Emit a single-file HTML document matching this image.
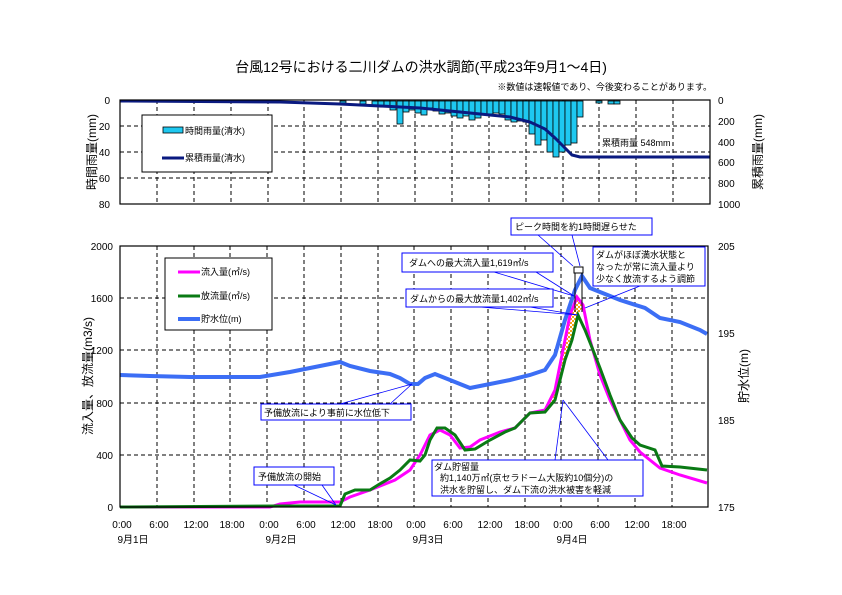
<!DOCTYPE html>
<html><head><meta charset="utf-8"><style>
html,body{margin:0;padding:0;background:#fff}
svg{display:block}
text{font-family:"Liberation Sans","Noto Sans CJK JP",sans-serif;fill:#000}
</style></head><body>
<svg width="842" height="595" viewBox="0 0 842 595" xmlns="http://www.w3.org/2000/svg">
<defs>
<pattern id="chk" width="4" height="4" patternUnits="userSpaceOnUse">
<rect width="4" height="4" fill="#ffffff"/><rect width="2" height="2" fill="#f7a21b"/><rect x="2" y="2" width="2" height="2" fill="#f7a21b"/>
</pattern>
</defs>
<text x="421" y="72" font-size="14" text-anchor="middle">台風12号における二川ダムの洪水調節(平成23年9月1～4日)</text>
<text x="712" y="90" font-size="9" text-anchor="end">※数値は速報値であり、今後変わることがあります。</text>

<!-- TOP CHART -->
<g stroke="#000" stroke-width="1" stroke-dasharray="4,3" fill="none">
<line x1="120" y1="126" x2="710" y2="126"/><line x1="120" y1="152" x2="710" y2="152"/><line x1="120" y1="178" x2="710" y2="178"/>
<line x1="157" y1="100" x2="157" y2="204"/><line x1="194" y1="100" x2="194" y2="204"/><line x1="231" y1="100" x2="231" y2="204"/><line x1="268" y1="100" x2="268" y2="204"/><line x1="304" y1="100" x2="304" y2="204"/><line x1="341" y1="100" x2="341" y2="204"/><line x1="378" y1="100" x2="378" y2="204"/><line x1="415" y1="100" x2="415" y2="204"/><line x1="452" y1="100" x2="452" y2="204"/><line x1="489" y1="100" x2="489" y2="204"/><line x1="526" y1="100" x2="526" y2="204"/><line x1="563" y1="100" x2="563" y2="204"/><line x1="599" y1="100" x2="599" y2="204"/><line x1="636" y1="100" x2="636" y2="204"/><line x1="673" y1="100" x2="673" y2="204"/>
</g>
<g fill="#1ec8f0" stroke="#000" stroke-width="0.8">
<rect x="340" y="101" width="6" height="2"/><rect x="360" y="101" width="6" height="3"/><rect x="372" y="101" width="6" height="4"/><rect x="378" y="101" width="6" height="5"/><rect x="384" y="101" width="6" height="6"/><rect x="390" y="101" width="6" height="9"/><rect x="397" y="101" width="6" height="23"/><rect x="403" y="101" width="6" height="11"/><rect x="409" y="101" width="6" height="9"/><rect x="415" y="101" width="6" height="12"/><rect x="421" y="101" width="6" height="14"/><rect x="427" y="101" width="6" height="7"/><rect x="433" y="101" width="6" height="10"/><rect x="439" y="101" width="6" height="13"/><rect x="445" y="101" width="6" height="12"/><rect x="451" y="101" width="6" height="15"/><rect x="457" y="101" width="6" height="17"/><rect x="463" y="101" width="6" height="15"/><rect x="469" y="101" width="6" height="19"/><rect x="475" y="101" width="6" height="17"/><rect x="481" y="101" width="6" height="14"/><rect x="487" y="101" width="6" height="13"/><rect x="493" y="101" width="6" height="12"/><rect x="499" y="101" width="6" height="13"/><rect x="505" y="101" width="6" height="19"/><rect x="511" y="101" width="6" height="21"/><rect x="517" y="101" width="6" height="20"/><rect x="523" y="101" width="6" height="21"/><rect x="529" y="101" width="6" height="33"/><rect x="535" y="101" width="6" height="44"/><rect x="541" y="101" width="6" height="39"/><rect x="547" y="101" width="6" height="51"/><rect x="553" y="101" width="6" height="56"/><rect x="559" y="101" width="6" height="51"/><rect x="565" y="101" width="6" height="44"/><rect x="571" y="101" width="6" height="42"/><rect x="577" y="101" width="6" height="16"/><rect x="596" y="101" width="6" height="2"/><rect x="608" y="101" width="6" height="3"/><rect x="614" y="101" width="6" height="3"/>
</g>
<polyline fill="none" stroke="#0a1a80" stroke-width="3" points="120,101 200,101.5 280,102 340,104 380,106 420,108 460,112 490,115 510,117 530,122 545,129 555,138 565,148 572,155 580,157 620,157 710,157"/>
<rect x="120" y="100" width="590" height="104" fill="none" stroke="#000" stroke-width="1.2"/>
<g font-size="10" text-anchor="end"><text x="110" y="104">0</text><text x="110" y="130">20</text><text x="110" y="156">40</text><text x="110" y="182">60</text><text x="110" y="208">80</text></g>
<g font-size="10"><text x="718" y="104">0</text><text x="718" y="125">200</text><text x="718" y="146">400</text><text x="718" y="166">600</text><text x="718" y="187">800</text><text x="718" y="208">1000</text></g>
<text transform="translate(96,152) rotate(-90)" font-size="12" text-anchor="middle">時間雨量(mm)</text>
<text transform="translate(762,152) rotate(-90)" font-size="12" text-anchor="middle">累積雨量(mm)</text>
<rect x="142" y="115" width="130" height="57" fill="#fff" stroke="#000"/>
<rect x="163" y="127" width="20" height="6" fill="#1ec8f0" stroke="#000" stroke-width="0.8"/>
<text x="185" y="134" font-size="9">時間雨量(清水)</text>
<line x1="162" y1="158" x2="184" y2="158" stroke="#0a1a80" stroke-width="3"/>
<text x="185" y="161" font-size="9">累積雨量(清水)</text>
<text x="602" y="146" font-size="9">累積雨量 548mm</text>

<!-- BOTTOM CHART -->
<g stroke="#000" stroke-width="1" stroke-dasharray="4,3" fill="none">
<line x1="120" y1="298" x2="708" y2="298"/><line x1="120" y1="350" x2="708" y2="350"/><line x1="120" y1="403" x2="708" y2="403"/><line x1="120" y1="455" x2="708" y2="455"/>
<line x1="157" y1="246" x2="157" y2="507"/><line x1="194" y1="246" x2="194" y2="507"/><line x1="230" y1="246" x2="230" y2="507"/><line x1="267" y1="246" x2="267" y2="507"/><line x1="304" y1="246" x2="304" y2="507"/><line x1="341" y1="246" x2="341" y2="507"/><line x1="378" y1="246" x2="378" y2="507"/><line x1="414" y1="246" x2="414" y2="507"/><line x1="451" y1="246" x2="451" y2="507"/><line x1="488" y1="246" x2="488" y2="507"/><line x1="525" y1="246" x2="525" y2="507"/><line x1="561" y1="246" x2="561" y2="507"/><line x1="598" y1="246" x2="598" y2="507"/><line x1="635" y1="246" x2="635" y2="507"/><line x1="672" y1="246" x2="672" y2="507"/>
</g>
<!-- storage area -->
<polygon fill="url(#chk)" points="530,413 545,410 555,390 565,340 570,315 577,297 583,305 580,312 578,315 572,340 565,360 555,400 545,412"/>
<!-- inflow -->
<polyline fill="none" stroke="#ff00ff" stroke-width="3" points="120,507 270,507 280,504 300,502 340,502 350,497 370,490 395,480 410,470 420,455 430,435 440,430 450,435 460,448 470,447 480,440 500,432 515,428 530,413 545,410 555,390 565,340 570,315 577,297 583,305 590,340 600,375 610,400 620,420 630,440 640,452 660,468 680,475 707,483"/>
<!-- outflow -->
<polyline fill="none" stroke="#0a7a14" stroke-width="3" points="120,507 280,506 340,506 345,494 355,490 370,490 378,485 390,478 400,470 410,460 420,461 425,455 430,440 437,428 445,428 455,435 465,450 475,449 490,440 505,432 515,428 530,413 545,412 555,400 565,360 572,340 578,315 585,330 593,350 600,368 610,395 620,420 632,438 640,445 655,450 662,466 680,467 707,470"/>
<!-- water level -->
<polyline fill="none" stroke="#3c6ef5" stroke-width="4" points="120,375 150,376 190,377 260,377 290,372 320,366 340,362 350,366 370,371 390,374 400,378 410,384 418,384 425,378 435,374 445,378 460,384 470,388 490,384 510,380 530,375 545,370 555,355 565,320 575,290 582,276 590,288 600,292 620,300 645,308 660,318 680,322 700,330 707,334"/>
<rect x="120" y="246" width="588" height="261" fill="none" stroke="#000" stroke-width="1.2"/>
<g font-size="10" text-anchor="end"><text x="113" y="511">0</text><text x="113" y="459">400</text><text x="113" y="407">800</text><text x="113" y="354">1200</text><text x="113" y="302">1600</text><text x="113" y="250">2000</text></g>
<g font-size="10"><text x="718" y="511">175</text><text x="718" y="424">185</text><text x="718" y="337">195</text><text x="718" y="250">205</text></g>
<text transform="translate(92,376) rotate(-90)" font-size="12" text-anchor="middle">流入量、放流量(m3/s)</text>
<text transform="translate(748,376) rotate(-90)" font-size="12" text-anchor="middle">貯水位(m)</text>
<g font-size="10" text-anchor="middle">
<text x="122" y="528">0:00</text><text x="159" y="528">6:00</text><text x="196" y="528">12:00</text><text x="232" y="528">18:00</text><text x="269" y="528">0:00</text><text x="306" y="528">6:00</text><text x="343" y="528">12:00</text><text x="380" y="528">18:00</text><text x="416" y="528">0:00</text><text x="453" y="528">6:00</text><text x="490" y="528">12:00</text><text x="527" y="528">18:00</text><text x="563" y="528">0:00</text><text x="600" y="528">6:00</text><text x="637" y="528">12:00</text><text x="674" y="528">18:00</text>
<text x="133" y="543">9月1日</text><text x="281" y="543">9月2日</text><text x="428" y="543">9月3日</text><text x="572" y="543">9月4日</text>
</g>
<rect x="165" y="258" width="107" height="72" fill="#fff" stroke="#000"/>
<line x1="178" y1="272" x2="200" y2="272" stroke="#ff00ff" stroke-width="3"/><text x="201" y="275" font-size="9">流入量(㎥/s)</text>
<line x1="178" y1="296" x2="200" y2="296" stroke="#0a7a14" stroke-width="3"/><text x="201" y="299" font-size="9">放流量(㎥/s)</text>
<line x1="178" y1="319" x2="200" y2="319" stroke="#3c6ef5" stroke-width="4"/><text x="201" y="322" font-size="9">貯水位(m)</text>

<!-- annotations -->
<g stroke="#0000ff" stroke-width="0.8" fill="none">
<line x1="538" y1="235" x2="573" y2="266"/><line x1="572" y1="235" x2="580" y2="266"/>
<line x1="494" y1="272" x2="574" y2="296"/><line x1="536" y1="272" x2="574" y2="296"/>
<line x1="640" y1="286" x2="585" y2="308"/>
<line x1="530" y1="307" x2="578" y2="315"/><line x1="480" y1="307" x2="578" y2="315"/>
<line x1="340" y1="404" x2="412" y2="384"/><line x1="390" y1="404" x2="412" y2="384"/>
<line x1="294" y1="485" x2="336" y2="505"/><line x1="322" y1="485" x2="336" y2="505"/>
<line x1="555" y1="460" x2="563" y2="400"/><line x1="608" y1="460" x2="563" y2="400"/>
</g>
<rect x="574" y="267" width="9" height="6" fill="#fff" stroke="#000"/>
<line x1="575" y1="273" x2="575" y2="312" stroke="#000"/><line x1="582" y1="273" x2="582" y2="312" stroke="#000"/>
<g fill="#fff" stroke="#0000ff" stroke-width="1">
<rect x="511" y="218" width="141" height="17"/>
<rect x="402" y="253" width="151" height="19"/>
<rect x="593" y="247" width="112" height="39"/>
<rect x="406" y="289" width="147" height="18"/>
<rect x="261" y="404" width="150" height="16"/>
<rect x="254" y="467" width="80" height="18"/>
<rect x="432" y="460" width="211" height="36"/>
</g>
<g font-size="9">
<text x="515" y="230">ピーク時間を約1時間遅らせた</text>
<text x="409" y="266">ダムへの最大流入量1,619㎥/s</text>
<text x="596" y="258">ダムがほぼ満水状態と</text>
<text x="596" y="270">なったが常に流入量より</text>
<text x="596" y="282">少なく放流するよう調節</text>
<text x="410" y="302">ダムからの最大放流量1,402㎥/s</text>
<text x="264" y="416">予備放流により事前に水位低下</text>
<text x="258" y="480">予備放流の開始</text>
<text x="434" y="470">ダム貯留量</text>
<text x="440" y="481">約1,140万㎥(京セラドーム大阪約10個分)の</text>
<text x="440" y="493">洪水を貯留し、ダム下流の洪水被害を軽減</text>
</g>
</svg>
</body></html>
